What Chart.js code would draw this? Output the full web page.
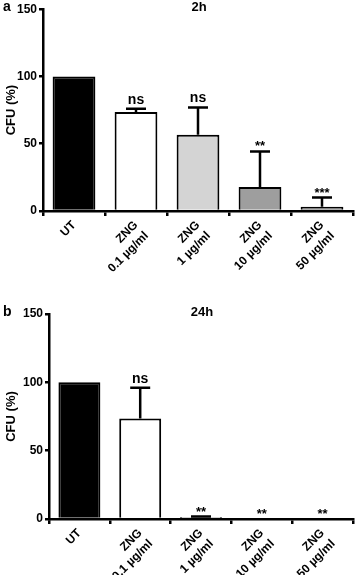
<!DOCTYPE html>
<html>
<head>
<meta charset="utf-8">
<script src="https://cdn.jsdelivr.net/npm/chart.js@4.4.0/dist/chart.umd.min.js"></script>
<style>
  body { margin: 0; background: #fff; }
  #wrap { position: relative; width: 359px; height: 575px; overflow: hidden; font-family: "Liberation Sans", Arial, sans-serif; font-weight: bold; }
  .pane { position: absolute; left: 0; width: 359px; }
  .lbl { position: absolute; font-size: 14px; }
  .ttl { position: absolute; font-size: 13px; transform: translateX(-50%); }
</style>
</head>
<body>
<div id="wrap">
  <div class="pane" style="top:0;height:287px"><canvas id="ca"></canvas></div>
  <div class="pane" style="top:290px;height:285px"><canvas id="cb"></canvas></div>
  <div class="lbl" style="left:3px;top:-2px">a</div>
  <div class="ttl" style="left:199px;top:-1px">2h</div>
  <div class="lbl" style="left:3px;top:303px">b</div>
  <div class="ttl" style="left:202px;top:304px">24h</div>
</div>
<script>
const categories = ["UT", ["ZNG", "0.1 µg/ml"], ["ZNG", "1 µg/ml"], ["ZNG", "10 µg/ml"], ["ZNG", "50 µg/ml"]];
const yTicks = [0, 50, 100, 150];

const valuesA = [100, 73.5, 56.6, 17.9, 3.2];
const errorsA = [0, 2.5, 20.4, 26.4, 6.8];
const signifA = ["", "ns", "ns", "**", "***"];

const valuesB = [100, 73.6, 1.5, 0, 0];
const errorsB = [0, 22.4, 0.3, 0, 0];
const signifB = ["", "ns", "**", "**", "**"];

const barColors = ["#000000", "#ffffff", "#d4d4d4", "#9e9e9e", "#6e6e6e"];

const FONT = "'Liberation Sans', Arial, sans-serif";

// error bars + significance marks, drawn from the data through the scales
const errorPlugin = {
  id: "errorBars",
  afterDatasetsDraw(chart, args, opts) {
    const ctx = chart.ctx;
    const xs = chart.scales.x, ys = chart.scales.y;
    const vals = chart.data.datasets[0].data;
    ctx.save();
    ctx.strokeStyle = "#000";
    ctx.lineWidth = 2.5;
    vals.forEach((v, i) => {
      const x = xs.getPixelForValue(i);
      const yv = ys.getPixelForValue(v);
      const yt = ys.getPixelForValue(v + opts.errors[i]);
      if (opts.errors[i] > 0) {
        ctx.beginPath();
        ctx.moveTo(x, yv);
        ctx.lineTo(x, yt);
        ctx.moveTo(x - 10, yt);
        ctx.lineTo(x + 10, yt);
        ctx.stroke();
      }
      const s = opts.signif[i];
      if (s) {
        ctx.fillStyle = "#000";
        ctx.textAlign = "center";
        ctx.textBaseline = "alphabetic";
        if (s[0] === "*") {
          ctx.font = "bold 13px " + FONT;
          ctx.fillText(s, x, yt - 1);
        } else {
          ctx.font = "bold 14px " + FONT;
          ctx.fillText(s, x, yt - 5);
        }
      }
    });
    ctx.restore();
  }
};

function makeChart(id, values, errors, signif, leftW, topPad, bottomH) {
  return new Chart(document.getElementById(id), {
    type: "bar",
    data: {
      labels: categories,
      datasets: [{
        data: values,
        backgroundColor: barColors,
        borderColor: "#000",
        borderWidth: 2,
        borderSkipped: "bottom",
        categoryPercentage: 1,
        barPercentage: 0.69
      }]
    },
    options: {
      responsive: true,
      maintainAspectRatio: false,
      animation: false,
      layout: { padding: { top: topPad, right: 6, left: 0, bottom: 0 } },
      plugins: {
        legend: { display: false },
        tooltip: { enabled: false },
        errorBars: { errors: errors, signif: signif }
      },
      scales: {
        x: {
          grid: { drawOnChartArea: false, drawTicks: true, tickLength: 5, color: "#000", lineWidth: 2.5 },
          border: { color: "#000", width: 2.5 },
          ticks: {
            color: "#000",
            autoSkip: false,
            minRotation: 45,
            maxRotation: 45,
            padding: 2,
            font: { family: FONT, weight: "bold", size: 12, lineHeight: 1.25 }
          },
          afterFit(s) { s.height = bottomH; }
        },
        y: {
          min: 0,
          max: 150,
          afterBuildTicks(s) { s.ticks = yTicks.map(v => ({ value: v })); },
          grid: { drawOnChartArea: false, drawTicks: true, tickLength: 4, color: "#000", lineWidth: 2.5 },
          border: { color: "#000", width: 2.5 },
          ticks: { color: "#000", padding: 2, font: { family: FONT, weight: "bold", size: 12 } },
          title: { display: true, text: "CFU (%)", color: "#000", padding: { top: 4, bottom: 0 }, font: { family: FONT, weight: "bold", size: 13 } },
          afterFit(s) { s.width = leftW; }
        }
      }
    },
    plugins: [errorPlugin]
  });
}

makeChart("ca", valuesA, errorsA, signifA, 43, 7, 76);
makeChart("cb", valuesB, errorsB, signifB, 49, 24, 56);
</script>
</body>
</html>
